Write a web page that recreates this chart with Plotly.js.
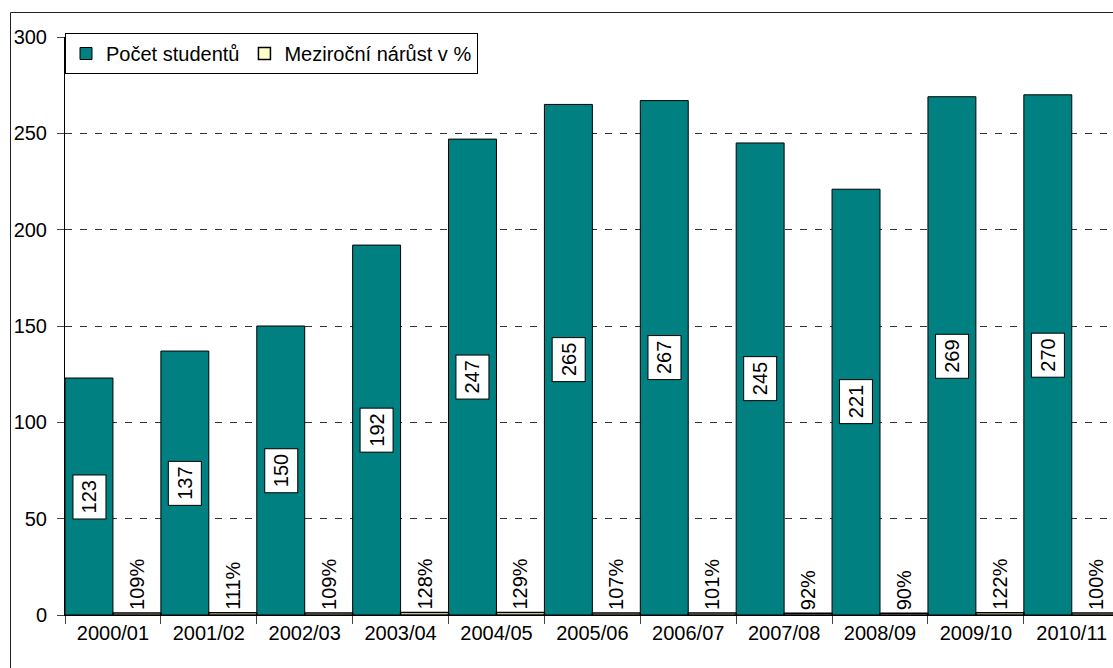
<!DOCTYPE html>
<html>
<head>
<meta charset="utf-8">
<script src="https://cdn.plot.ly/plotly-3.0.1.min.js"></script>
<style>
html,body{margin:0;padding:0;background:#fff;overflow:hidden;}
#chart{width:1113px;height:668px;}
</style>
</head>
<body>
<div id="chart"></div>
<script>
// ---- data ----
const years = ["2000/01","2001/02","2002/03","2003/04","2004/05","2005/06","2006/07","2007/08","2008/09","2009/10","2010/11"];
const students = [123,137,150,192,247,265,267,245,221,269,270];
const growthPct = [109,111,109,128,129,107,101,92,90,122,100];
const seriesNames = ["Počet studentů","Meziroční nárůst v %"];
const yTicks = [0,50,100,150,200,250,300];

const FONT = "Arial, 'Liberation Sans', sans-serif";
const W = 1113, H = 668;
const M = {l:65, r:0, t:37, b:53};
const plotW = W - M.l - M.r, plotH = H - M.t - M.b;

const growthVals = growthPct.map(v => v/100);

const traces = [
  {
    type:'bar', name:seriesNames[0], x:years, y:students,
    marker:{color:'#008080', line:{color:'#000', width:1}},
    hoverinfo:'skip'
  },
  {
    type:'bar', name:seriesNames[1], x:years, y:growthVals,
    marker:{color:'#FFFFCC', line:{color:'#000', width:1.5}},
    text:growthPct.map(v => v + '%'),
    textposition:'outside', textangle:-90, constraintext:'none', cliponaxis:false,
    textfont:{family:FONT, size:20, color:'#000'},
    hoverinfo:'skip'
  }
];

const catW = plotW / 10.93;
const annotations = students.map((v,i) => ({
  x: years[i], y: v/2, xref:'x', yref:'y',
  xshift: -catW/4,
  text: String(v), showarrow:false, textangle:-90,
  font:{family:FONT, size:20, color:'#000'},
  bgcolor:'#fff', bordercolor:'#000', borderwidth:1, borderpad:5
}));

const layout = {
  width:W, height:H,
  margin:M,
  paper_bgcolor:'#fff', plot_bgcolor:'#fff',
  font:{family:FONT, size:20, color:'#000'},
  barmode:'group', bargap:0, bargroupgap:0,
  showlegend:true,
  legend:{
    orientation:'h', x:0, xanchor:'left', y:1 + 4/plotH, yanchor:'top',
    bgcolor:'#fff', bordercolor:'#000', borderwidth:1,
    font:{family:FONT, size:20, color:'#000'}
  },
  xaxis:{
    type:'category', range:[-0.5, 10.43],
    tickson:'boundaries', ticks:'outside', ticklen:8, tickcolor:'#444', tickwidth:1,
    showline:true, linecolor:'#000', linewidth:1,
    showgrid:false, zeroline:false,
    tickfont:{family:FONT, size:20, color:'#000'},
    fixedrange:true
  },
  yaxis:{
    range:[0,300], tickvals:yTicks,
    ticks:'outside', ticklen:7, tickcolor:'#444', tickwidth:1,
    ticklabelstandoff:6,
    showline:true, linecolor:'#000', linewidth:1,
    showgrid:true, gridcolor:'#333', gridwidth:1, griddash:'7px,8px',
    zeroline:false,
    tickfont:{family:FONT, size:20, color:'#000'},
    fixedrange:true
  },
  annotations:annotations,
  shapes:[{
    type:'rect', xref:'paper', yref:'paper', layer:'above',
    x0:(10.5 - M.l)/plotW, x1:1.05,
    y0:-0.2, y1:(M.t + plotH - 12.5)/plotH,
    line:{color:'#222', width:1}, fillcolor:'rgba(0,0,0,0)'
  }]
};

Plotly.newPlot('chart', traces, layout, {displayModeBar:false, staticPlot:true});
</script>
</body>
</html>
